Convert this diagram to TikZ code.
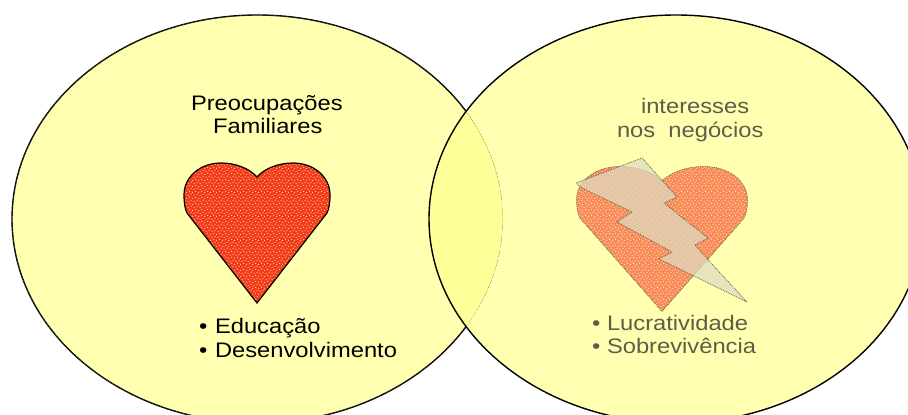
\documentclass[tikz,border=0pt]{standalone}
\usepackage{fontspec}
\setmainfont[FakeStretch=1.13]{Liberation Sans}
\usetikzlibrary{patterns}
\definecolor{venn}{HTML}{FFFFAC}
\definecolor{vennlap}{HTML}{FFFF99}
\definecolor{speck}{HTML}{FFFFD2}
\definecolor{heartred}{HTML}{F23A22}
\definecolor{heartspeck}{HTML}{FFC060}
\definecolor{heartfade}{HTML}{F98A5E}
\definecolor{fadespeck}{HTML}{FFE090}
\definecolor{boltfill}{HTML}{DEDBC0}
\definecolor{fadetext}{HTML}{5E5E48}
\pgfdeclarepatternformonly{speckles}{\pgfqpoint{-1pt}{-1pt}}{\pgfqpoint{7pt}{7pt}}{\pgfqpoint{6pt}{6pt}}{%
  \pgfpathrectangle{\pgfqpoint{0pt}{0pt}}{\pgfqpoint{1.2pt}{1.2pt}}%
  \pgfpathrectangle{\pgfqpoint{3pt}{1pt}}{\pgfqpoint{1.2pt}{1.2pt}}%
  \pgfpathrectangle{\pgfqpoint{1.5pt}{3pt}}{\pgfqpoint{1.2pt}{1.2pt}}%
  \pgfpathrectangle{\pgfqpoint{4.5pt}{4pt}}{\pgfqpoint{1.2pt}{1.2pt}}%
  \pgfusepath{fill}}
\newcommand{\heartshape}{(0,0) .. controls (8,-9) and (22,-14) .. (36,-14) .. controls (57,-14) and (73,0) .. (73,18) .. controls (73,26) and (72,32) .. (70,36) -- (0,126) -- (-70,36) .. controls (-72,32) and (-73,26) .. (-73,18) .. controls (-73,0) and (-57,-14) .. (-36,-14) .. controls (-22,-14) and (-8,-9) .. (0,0) -- cycle}
\newcommand{\leftell}{(257.5,219) ellipse [x radius=245.5, y radius=204]}
\newcommand{\rightell}{(676,219) ellipse [x radius=247, y radius=204]}
\tikzset{
  lbl/.style={anchor=base west, inner sep=0pt, outer sep=0pt, font=\fontsize{21}{24}\selectfont, text=black},
  fadelbl/.style={lbl, text=fadetext},
}
\begin{document}
\begin{tikzpicture}[x=1pt,y=-1pt]
\useasboundingbox (0,0) rectangle (908,415);
\clip (0,0) rectangle (908,415);
\fill[white] (0,0) rectangle (908,415);
% left and right circles
\fill[venn] \leftell;
\path[pattern=speckles, pattern color=speck] \leftell;
\draw[line width=1.4pt] \leftell;
\fill[venn] \rightell;
\path[pattern=speckles, pattern color=speck] \rightell;
\begin{scope}
  \clip \leftell;
  \fill[vennlap] \rightell;
  \draw[line width=0.8pt, densely dotted, fadetext] \leftell;
\end{scope}
\draw[line width=1.4pt] \rightell;
% left heart
\begin{scope}[shift={(257,177)}]
  \fill[heartred] \heartshape;
  \path[pattern=speckles, pattern color=heartspeck] \heartshape;
  \draw[line width=1.2pt] \heartshape;
\end{scope}
% right heart
\begin{scope}[shift={(662,181)}, xscale=1.17, yscale=1.035]
  \fill[heartfade] \heartshape;
  \path[pattern=speckles, pattern color=fadespeck] \heartshape;
  \draw[line width=0.8pt, densely dotted, fadetext] \heartshape;
\end{scope}
% lightning bolt
\draw[line width=0.8pt, densely dotted, fadetext, fill=boltfill, fill opacity=.72, line join=round]
  (576,183) -- (642,158) -- (677,197) -- (664,203) -- (708,238) -- (695,245)
  -- (710,262) -- (747,302) -- (659,259) -- (672,252) -- (617,222) -- (632,212)
  -- (582,188) -- cycle;
% texts, left
\node[lbl] (t1) at (191,110) {Preocupações};
\node[lbl] (t2) at (213,133) {Familiares};
\node[lbl] (b1) at (199,333) {•};
\node[lbl] (t3) at (215,333) {Educação};
\node[lbl] (b2) at (199,357) {•};
\node[lbl] (t4) at (215,357) {Desenvolvimento};
% texts, right
\node[fadelbl] (t5) at (641,113) {interesses};
\node[fadelbl] (t6) at (617,137) {nos\ \ negócios};
\node[fadelbl] (b3) at (592,330) {•};
\node[fadelbl] (t7) at (607,330) {Lucratividade};
\node[fadelbl] (b4) at (592,353) {•};
\node[fadelbl] (t8) at (607,353) {Sobrevivência};
\end{tikzpicture}
\end{document}
